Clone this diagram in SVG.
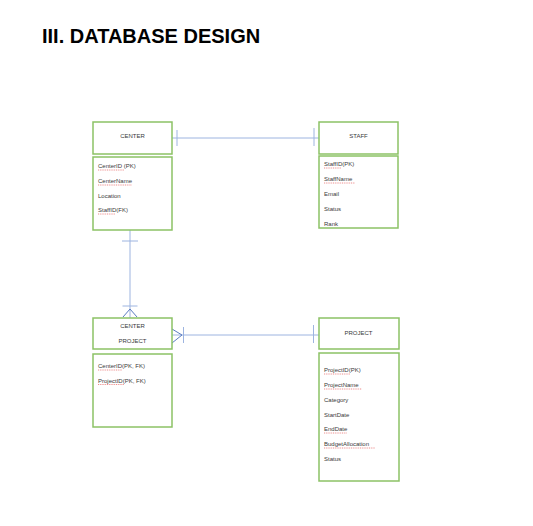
<svg xmlns="http://www.w3.org/2000/svg" width="533" height="526" viewBox="0 0 533 526">
<style>
.box{fill:#fff;stroke:#8cc265;stroke-width:1.5}
.t{font-family:"Liberation Sans",Arial,sans-serif;font-size:6px;fill:#3a3a3a}
.c{text-anchor:middle}
.title{font-family:"Liberation Sans",Arial,sans-serif;font-size:20px;font-weight:bold;fill:#000}
.ln{stroke:#9db4e0;stroke-width:1;fill:none}
.cf{stroke:#5a7cc2;stroke-width:1;fill:none}
.sq{stroke:#e04040;stroke-width:0.6;stroke-dasharray:1 0.8;fill:none}
</style>
<rect width="533" height="526" fill="#fff"/>
<text class="title" x="42" y="43">III. DATABASE DESIGN</text>

<g id="connectors">
  <path class="ln" d="M172 138H319M177 130V146M314 128V146"/>
  <path class="ln" d="M130 230V318M122 241H138M122.5 306H137.5"/>
  <path class="cf" d="M123 317L130 309L137 317"/>
  <path class="ln" d="M172 335H319M183.5 327V343M313.5 325V343"/>
  <path class="cf" d="M172 329L182 335L172 343"/>
</g>

<g id="center">
  <rect class="box" x="93" y="122" width="79" height="32"/>
  <text class="t c" x="132.5" y="138">CENTER</text>
  <rect class="box" x="93" y="157" width="79" height="73"/>
  <text class="t" x="98" y="168">CenterID (PK)</text>
  <text class="t" x="98" y="183">CenterName</text>
  <text class="t" x="98" y="197.5">Location</text>
  <text class="t" x="98" y="212">StaffID(FK)</text>
  <path class="sq" d="M98 170H124M98 185H132M98 214H115"/>
</g>

<g id="staff">
  <rect class="box" x="319" y="122" width="79" height="32"/>
  <text class="t c" x="358.5" y="138">STAFF</text>
  <rect class="box" x="319" y="156" width="79" height="72"/>
  <text class="t" x="324" y="166">StaffID(PK)</text>
  <text class="t" x="324" y="181">StaffName</text>
  <text class="t" x="324" y="196">Email</text>
  <text class="t" x="324" y="211">Status</text>
  <text class="t" x="324" y="225.5">Rank</text>
  <path class="sq" d="M324 168H341M324 183H355"/>
</g>

<g id="center-project">
  <rect class="box" x="93" y="318" width="79" height="31"/>
  <text class="t c" x="132.5" y="328">CENTER</text>
  <text class="t c" x="132.5" y="342.5">PROJECT</text>
  <rect class="box" x="93" y="354" width="79" height="73"/>
  <text class="t" x="98" y="368">CenterID(PK, FK)</text>
  <text class="t" x="98" y="382.5">ProjectID(PK, FK)</text>
  <path class="sq" d="M98 370H122M98 384.5H124"/>
</g>

<g id="project">
  <rect class="box" x="319" y="318" width="80" height="31"/>
  <text class="t c" x="358.5" y="335">PROJECT</text>
  <rect class="box" x="319" y="353" width="80" height="128"/>
  <text class="t" x="324" y="372">ProjectID(PK)</text>
  <text class="t" x="324" y="387">ProjectName</text>
  <text class="t" x="324" y="401.5">Category</text>
  <text class="t" x="324" y="416.5">StartDate</text>
  <text class="t" x="324" y="431">EndDate</text>
  <text class="t" x="324" y="446">BudgetAllocation</text>
  <text class="t" x="324" y="461">Status</text>
  <path class="sq" d="M324 374H350M324 389H362M324 433H347M324 448H375"/>
</g>
</svg>
